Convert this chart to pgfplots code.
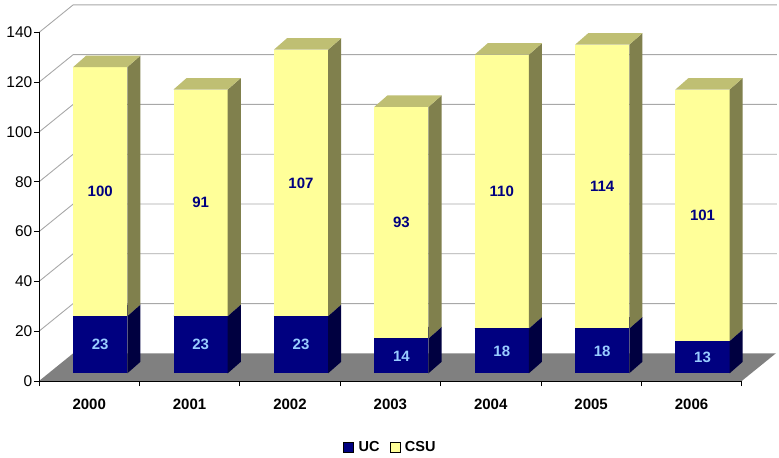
\documentclass[border=0pt]{standalone}
\usepackage{pgfplots}
\pgfplotsset{compat=1.18}
\usepackage{pgfplotstable}
\usepackage{fontspec}
\setmainfont{Liberation Sans}

\definecolor{ucfront}{HTML}{000080}
\definecolor{ucside}{HTML}{000040}
\definecolor{uctop}{HTML}{000060}
\definecolor{csufront}{HTML}{FFFF99}
\definecolor{csuside}{HTML}{80804D}
\definecolor{csutop}{HTML}{BFBF73}
\definecolor{floorgray}{HTML}{808080}
\definecolor{gridgray}{HTML}{A8A8A8}
\definecolor{uclabel}{HTML}{99CCFF}

\pgfplotstableread{
idx year UC CSU
0 2000 23 100
1 2001 23 91
2 2002 23 107
3 2003 14 93
4 2004 18 110
5 2005 18 114
6 2006 13 101
}\datatable

% geometry (axis units)
\def\bw{0.54}   % bar front width
\def\fx{0.11}   % bar front offset x
\def\fy{3.1}    % bar front offset y
\def\dxb{0.13}  % bar depth x
\def\dyb{4.6}   % bar depth y
\def\Fx{0.34}   % floor depth x
\def\Fy{11.1}   % floor depth y

% 3D box: #1 category, #2 base, #3 top, #4 front, #5 side, #6 top colour
\newcommand\tdbar[6]{%
  \pgfmathsetmacro\tbxa{#1+0.5-0.5*\bw+\fx}%
  \pgfmathsetmacro\tbxb{\tbxa+\bw}%
  \pgfmathsetmacro\tbya{#2+\fy}%
  \pgfmathsetmacro\tbyb{#3+\fy}%
  \pgfmathsetmacro\tbxc{\tbxb+\dxb}%
  \pgfmathsetmacro\tbxd{\tbxa+\dxb}%
  \pgfmathsetmacro\tbyc{\tbya+\dyb}%
  \pgfmathsetmacro\tbyd{\tbyb+\dyb}%
  \edef\tbtmp{%
    \noexpand\addplot[forget plot, fill=#4, draw=none] coordinates {(\tbxa,\tbya) (\tbxb,\tbya) (\tbxb,\tbyb) (\tbxa,\tbyb)};
    \noexpand\addplot[forget plot, fill=#5, draw=none] coordinates {(\tbxb,\tbya) (\tbxc,\tbyc) (\tbxc,\tbyd) (\tbxb,\tbyb)};
    \noexpand\addplot[forget plot, fill=#6, draw=none] coordinates {(\tbxa,\tbyb) (\tbxb,\tbyb) (\tbxc,\tbyd) (\tbxd,\tbyd)};
  }\tbtmp}

% label: #1 category, #2 base, #3 value, #4 colour
\newcommand\tdlabel[4]{%
  \pgfmathsetmacro\tlx{#1+0.5+\fx}%
  \pgfmathsetmacro\tly{#2+0.5*#3+\fy}%
  \edef\tltmp{%
    \noexpand\node[font=\noexpand\bfseries\noexpand\fontsize{15}{15}\noexpand\selectfont, text=#4, inner sep=0pt] at (axis cs:\tlx,\tly) {#3};
  }\tltmp}

\begin{document}
\begin{tikzpicture}
\begin{axis}[
  scale only axis,
  width=702.7pt, height=348.5pt,
  xmin=0, xmax=7, ymin=0, ymax=140,
  clip=false,
  axis on top,
  axis x line*=bottom, axis y line*=left,
  axis line style={black, line width=0.8pt},
  xtick={0,...,7},
  xticklabels={2000,2001,2002,2003,2004,2005,2006},
  x tick label as interval,
  ytick={0,20,...,140},
  tick align=outside,
  major tick length=5pt,
  tick style={black, line width=0.8pt},
  /pgf/number format/assume math mode=true,
  yticklabel style={font=\fontsize{15.5}{15.5}\selectfont, inner sep=1.5pt},
  xticklabel style={font=\bfseries\fontsize{15}{15}\selectfont, yshift=-9pt},
  legend style={at={(0.5,-0.19)}, anchor=center, draw=none, fill=none,
    legend columns=2, font=\bfseries\fontsize{14.5}{14.5}\selectfont,
    /tikz/every even column/.append style={column sep=8pt},
    nodes={inner sep=2pt}},
  legend image code/.code={\fill[#1] (0pt,-5pt) rectangle (10pt,5pt); \path (13pt,0pt);},
]
% back wall / side wall gridlines
\pgfplotsinvokeforeach{20,40,60,80,100,120,140}{
  \pgfmathsetmacro\gy{#1+\Fy}
  \edef\gtmp{\noexpand\addplot[forget plot, gridgray, line width=0.9pt] coordinates {(0,#1) (\Fx,\gy) (7.35,\gy)};}
  \gtmp
}
% floor
\addplot[forget plot, fill=floorgray, draw=none] coordinates {(0,0) (7,0) (7.34,11.1) (0.34,11.1)};

% bars
\pgfplotsinvokeforeach{0,...,6}{
  \pgfplotstablegetelem{#1}{UC}\of\datatable \edef\ucv{\pgfplotsretval}
  \pgfplotstablegetelem{#1}{CSU}\of\datatable \edef\csuv{\pgfplotsretval}
  \pgfmathsetmacro\totv{\ucv+\csuv}
  \tdbar{#1}{0}{\ucv}{ucfront}{ucside}{uctop}
  \tdbar{#1}{\ucv}{\totv}{csufront}{csuside}{csutop}
  \tdlabel{#1}{0}{\ucv}{uclabel}
  \tdlabel{#1}{\ucv}{\csuv}{ucfront}
}

\addlegendimage{fill=ucfront}
\addlegendentry{UC}
\addlegendimage{fill=csufront}
\addlegendentry{CSU}

\path (rel axis cs:0,0) ++(-39pt,-75pt) rectangle ++(779pt,456pt);
\end{axis}
\end{tikzpicture}
\end{document}
